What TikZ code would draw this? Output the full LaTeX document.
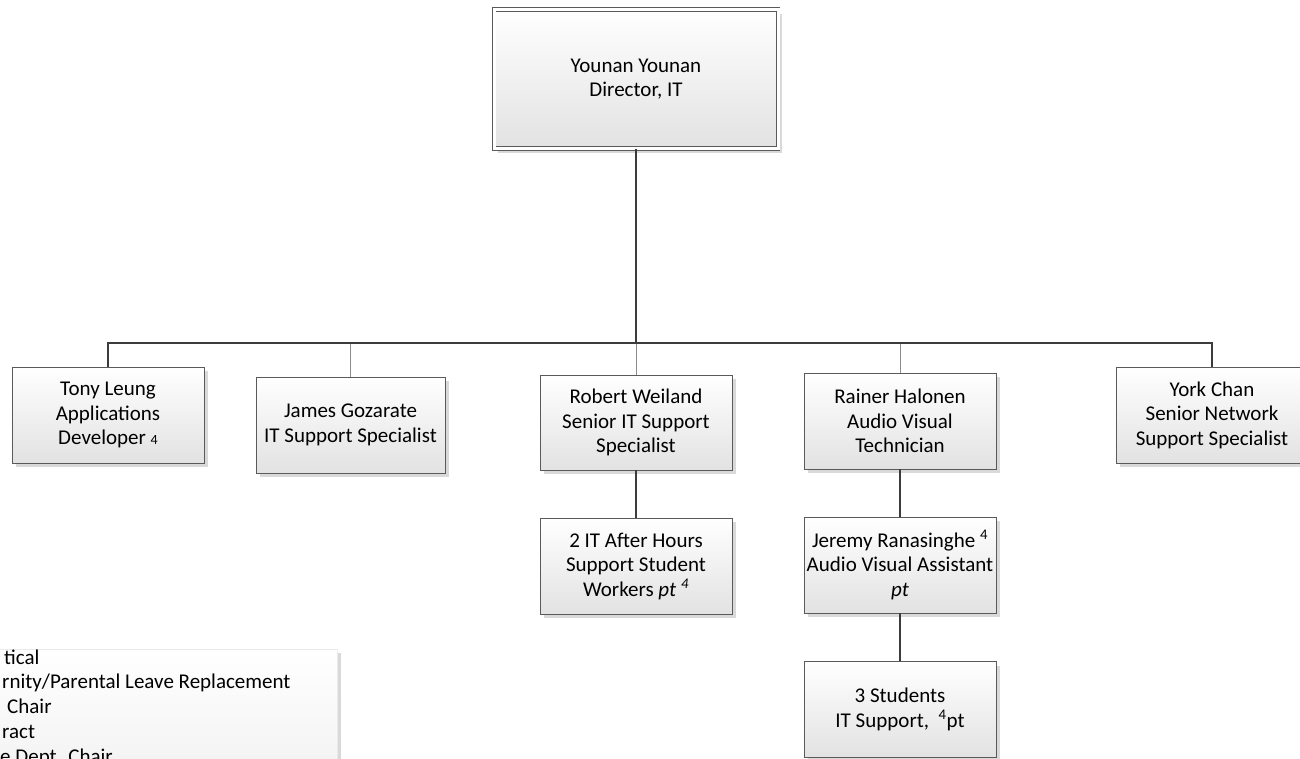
\documentclass[tikz,border=0pt]{standalone}
\usepackage{fontspec}
\setmainfont{Carlito}
\usetikzlibrary{shadows}
\definecolor{boxline}{HTML}{5A5A5A}
\definecolor{wirecol}{HTML}{3C3C3C}
\definecolor{thincol}{HTML}{8C8C8C}
\definecolor{boxfoot}{HTML}{E2E2E2}
\definecolor{shadecol}{HTML}{D9D9D9}
\definecolor{legendfoot}{HTML}{F0F0F0}

\begin{document}
\begin{tikzpicture}[x = 1pt, y = -1pt,
    card/.style = {draw = boxline, line width = 0.9pt, top color = white, bottom color = boxfoot,
        minimum width = 192pt, minimum height = 96pt, inner sep = 0pt, align = center,
        font = \fontsize{21}{24.5}\selectfont,
        drop shadow = {shadow xshift = 4pt, shadow yshift = -4pt, fill = shadecol, opacity = 1}},
    wire/.style = {draw = wirecol, line width = 2.4pt},
    thinwire/.style = {draw = thincol, line width = 1pt},
    legendtext/.style = {anchor = base west, inner sep = 0pt, font = \fontsize{21}{24.5}\selectfont}]
    \useasboundingbox (0,0) rectangle (1300,758);
    \clip (0,0) rectangle (1300,758);

    \fill[shadecol] (-60,653) rectangle (341,800);
    \shade[top color = white, bottom color = legendfoot, draw = black!8] (-60,649) rectangle (337,800);
    \node[legendtext] (sabbatical) at (4,664) {tical};
    \node[legendtext] (maternity) at (2,688) {rnity/Parental Leave Replacement};
    \node[legendtext] (chair) at (7,713) {Chair};
    \node[legendtext] (contract) at (2,738) {ract};
    \node[legendtext] (assocchair) at (0,763) {e Dept. Chair};

    \node[card, minimum width = 284pt, minimum height = 139pt, double = white, double distance = 3pt] (dir) at (636,79) {Younan Younan\\Director, IT};
    \node[card] (tony) at (108,415) {Tony Leung\\Applications\\Developer {\fontsize{14}{14}\selectfont 4}};
    \node[card, minimum width = 189pt] (james) at (350.5,425) {James Gozarate\\IT Support Specialist};
    \node[card, minimum height = 95pt] (robert) at (636,422.5) {Robert Weiland\\Senior IT Support\\Specialist};
    \node[card] (rainer) at (900,421) {Rainer Halonen\\Audio Visual\\Technician};
    \node[card] (york) at (1212,415) {York Chan\\Senior Network\\Support Specialist};
    \node[card] (afterhours) at (636,566) {2 IT After Hours\\Support Student\\Workers \textit{pt} \textsuperscript{\textit{4}}};
    \node[card] (jeremy) at (900,565) {Jeremy Ranasinghe \textsuperscript{4}\\Audio Visual Assistant\\\textit{pt}};
    \node[card] (students) at (900,709.5) {3 Students\\IT Support,\ \ \textsuperscript{4}pt};

    \coordinate (tee) at (636,343);
    \draw[thinwire] (james.north) -- (james.north |- tee);
    \draw[thinwire] (robert.north) -- (tee);
    \draw[thinwire] (rainer.north) -- (rainer.north |- tee);
    \draw[wire] (dir.south) -- (tee) -| (tony.north);
    \draw[wire] (tee) -| (york.north);
    \draw[wire] (robert.south) -- (afterhours.north);
    \draw[wire] (rainer.south) -- (jeremy.north);
    \draw[wire] (jeremy.south) -- (students.north);
\end{tikzpicture}
\end{document}
